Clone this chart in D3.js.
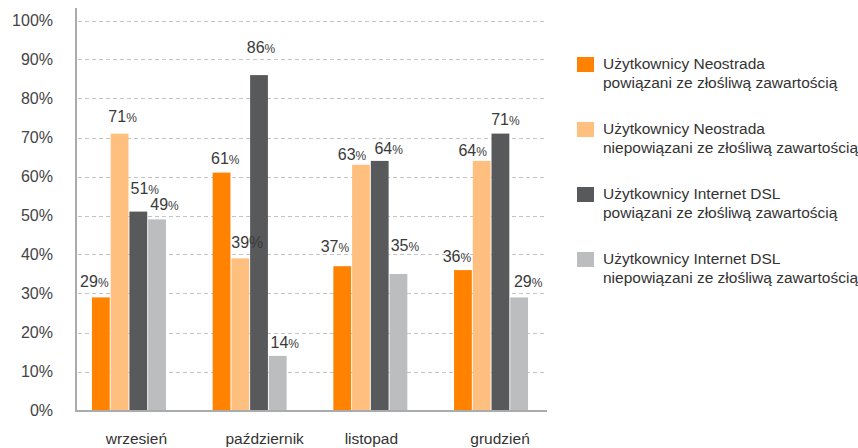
<!DOCTYPE html>
<html><head><meta charset="utf-8">
<script src="https://cdn.jsdelivr.net/npm/d3@7"></script>
<style>
html,body{margin:0;padding:0;background:#fff;}
svg{display:block;font-family:"Liberation Sans",Arial,Helvetica,sans-serif;}
</style></head>
<body><svg id="c" width="858" height="448"></svg>
<script>
const categories = ["wrzesień", "październik", "listopad", "grudzień"];
const seriesNames = [
  ["Użytkownicy Neostrada", "powiązani ze złośliwą zawartością"],
  ["Użytkownicy Neostrada", "niepowiązani ze złośliwą zawartością"],
  ["Użytkownicy Internet DSL", "powiązani ze złośliwą zawartością"],
  ["Użytkownicy Internet DSL", "niepowiązani ze złośliwą zawartością"]
];
const neostradaPowiazani = [29, 61, 37, 36];
const neostradaNiepowiazani = [71, 39, 63, 64];
const dslPowiazani = [51, 86, 64, 71];
const dslNiepowiazani = [49, 14, 35, 29];
const yTicks = [0, 10, 20, 30, 40, 50, 60, 70, 80, 90, 100];
const colors = ["#ff8200", "#ffbf7f", "#58595b", "#bcbdbf"];

// layout nudges for value labels [dx, dy] per category, per series (position only)
const labelNudge = [
  [[-6.5, -1], [3, -2.5], [6.5, -8.6], [7.5, 0]],
  [[3.7, 0], [7, -1.4], [2, -13.4], [7, 0.8]],
  [[-7.3, -5], [-9, 4], [9, 2.4], [6.5, -14.3]],
  [[-6, 1.2], [-9, 3.8], [5, 0.4], [9, -1]]
];
const catLabelDx = [7.5, 15, 1, 9];

const series = [neostradaPowiazani, neostradaNiepowiazani, dslPowiazani, dslNiepowiazani];
const svg = d3.select("#c");

const y = d3.scaleLinear().domain([0, 100]).range([410.5, 20.5]);
const x0 = d3.scaleBand().domain(categories).range([68.6, 551.4]).padding(0);
const x1 = d3.scaleBand().domain(d3.range(4)).range([-37, 37]).paddingInner(0.05);

const plotLeft = 76, plotRight = 547;

// gridlines
svg.append("g").selectAll("line").data(yTicks.filter(d => d > 0)).join("line")
  .attr("x1", plotLeft + 2).attr("x2", plotRight)
  .attr("y1", d => Math.round(y(d)) + 0.5).attr("y2", d => Math.round(y(d)) + 0.5)
  .attr("stroke", "#c4c4c4").attr("stroke-width", 1).attr("stroke-dasharray", "4,3");

// y axis labels
const yAxis = d3.axisLeft(y).tickValues(yTicks).tickFormat(d => d + "%").tickSize(0).tickPadding(0);
const ya = svg.append("g").attr("transform", "translate(53,0)").call(yAxis);
ya.select(".domain").remove();
ya.selectAll("text").attr("font-size", 16).attr("fill", "#444").attr("font-family", "Liberation Sans, Arial, sans-serif").attr("dy", "0.34em");

// bars
categories.forEach((c, ci) => {
  const g = svg.append("g").attr("transform", `translate(${x0(c) + x0.bandwidth() / 2},0)`);
  series.forEach((s, si) => {
    g.append("rect")
      .attr("x", x1(si)).attr("width", x1.bandwidth())
      .attr("y", y(s[ci])).attr("height", y(0) - y(s[ci]))
      .attr("fill", colors[si]);
  });
  series.forEach((s, si) => {
    const [dx, dy] = labelNudge[ci][si];
    const t = g.append("text")
      .attr("x", x1(si) + x1.bandwidth() / 2 + dx)
      .attr("y", y(s[ci]) - 9 + dy)
      .attr("text-anchor", "middle").attr("fill", "#3a3a3a");
    t.append("tspan").attr("font-size", 16).text(s[ci]);
    t.append("tspan").attr("font-size", (ci === 1 && si === 1) ? 16 : 12).text("%");
  });
});

// axes lines
svg.append("line").attr("x1", plotLeft).attr("x2", plotLeft).attr("y1", 8).attr("y2", 412)
  .attr("stroke", "#aaabad").attr("stroke-width", 2);
svg.append("line").attr("x1", plotLeft - 1).attr("x2", plotRight).attr("y1", 411).attr("y2", 411)
  .attr("stroke", "#aaabad").attr("stroke-width", 2);

// x labels
const xAxis = d3.axisBottom(x0).tickSize(0).tickPadding(0);
const xa = svg.append("g").call(xAxis);
xa.select(".domain").remove();
xa.selectAll(".tick text").attr("x", (d, i) => catLabelDx[i]).attr("y", 444).attr("dy", 0)
  .attr("font-size", 15.5).attr("fill", "#333")
  .attr("font-family", "Liberation Sans, Arial, sans-serif");

// legend
const leg = svg.append("g").attr("transform", "translate(577,57)");
seriesNames.forEach((n, i) => {
  const g = leg.append("g").attr("transform", `translate(0,${i * 65})`);
  g.append("rect").attr("width", 17).attr("height", 15).attr("fill", colors[i]);
  const t = g.append("text").attr("fill", "#333").attr("font-size", 15.5);
  t.append("tspan").attr("x", 26).attr("y", 12).text(n[0]);
  t.append("tspan").attr("x", 26).attr("y", 31).text(n[1]);
});
</script></body></html>
